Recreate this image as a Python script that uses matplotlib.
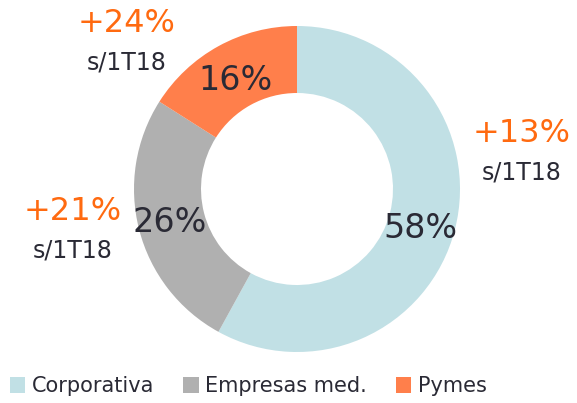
import matplotlib.pyplot as plt

segments = ["Corporativa", "Empresas med.", "Pymes"]
shares = [58, 26, 16]
growth = ["+13%", "+21%", "+24%"]
colors = ["#c1e0e5", "#b0b0b0", "#ff7f4b"]

fig = plt.figure(figsize=(5.77, 4.03), dpi=100)
ax = fig.add_axes([0, 0, 1, 1])

wedges, _ = ax.pie(shares, colors=colors, startangle=90, counterclock=False,
                   center=(297, 214), radius=163,
                   wedgeprops=dict(width=67, linewidth=0))

dark = "#2a2a35"
orange = "#ff6a10"

# share labels
share_pos = [(420, 175), (170, 181), (235, 323)]
for (x, y), s in zip(share_pos, shares):
    ax.text(x, y, f"{s}%", fontsize=24, color=dark, ha="center", va="center")

# growth labels
growth_pos = [(522, 270), (73, 192), (127, 380)]
for (x, y), g in zip(growth_pos, growth):
    ax.text(x, y, g, fontsize=23, color=orange, ha="center", va="center")
    ax.text(x, y - 40, "s/1T18", fontsize=17, color=dark, ha="center", va="center")

ax.set_xlim(0, 577)
ax.set_ylim(0, 403)
ax.set_aspect("equal")
ax.axis("off")

leg = ax.legend(wedges, segments, loc="lower center", bbox_to_anchor=(0.43, -0.03),
                ncol=3, frameon=False, fontsize=15, handlelength=0.75, handleheight=0.75,
                handletextpad=0.3, columnspacing=1.4, labelcolor=dark)

fig.savefig("out.png", dpi=100)
